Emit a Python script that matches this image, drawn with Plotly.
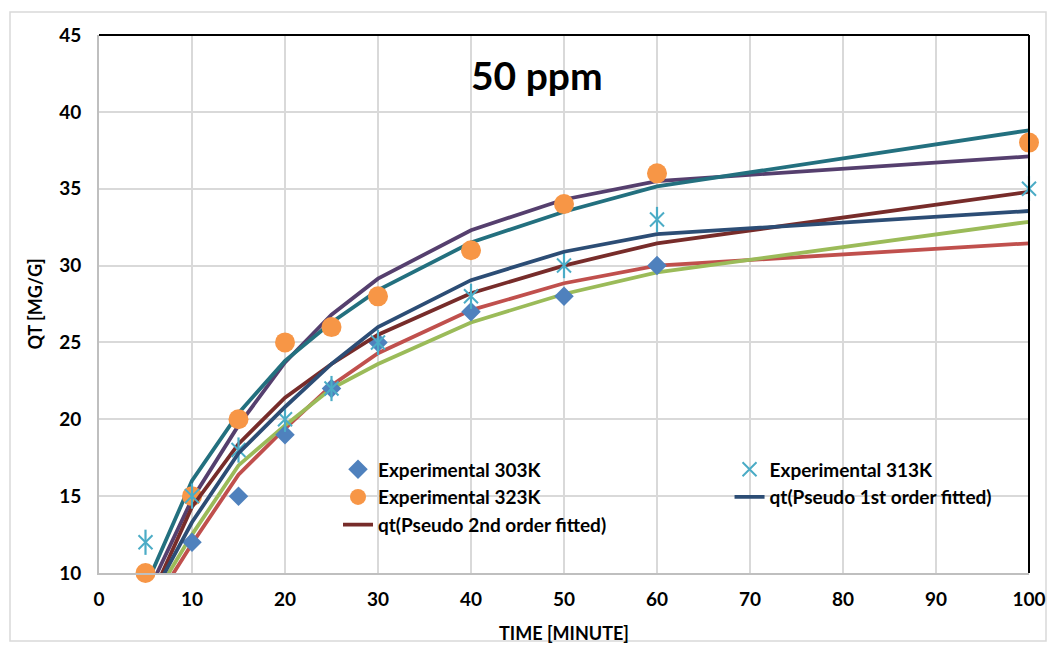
import plotly.graph_objects as go

# ---------------- data ----------------
t_fit = [5, 10, 15, 20, 25, 30, 40, 50, 60, 100]
fit_teal   = [9.1, 16.0, 20.4, 23.8, 26.3, 28.4, 31.5, 33.5, 35.15, 38.8]
fit_purple = [8.4, 14.8, 19.6, 23.7, 26.8, 29.15, 32.3, 34.3, 35.5, 37.1]
fit_navy   = [7.7, 13.3, 17.8, 20.8, 23.6, 26.0, 29.05, 30.9, 32.05, 33.55]   # pseudo 1st order
fit_dkred  = [7.6, 14.3, 18.4, 21.4, 23.6, 25.5, 28.2, 30.0, 31.45, 34.8]    # pseudo 2nd order
fit_red    = [7.1, 11.9, 16.4, 19.4, 22.2, 24.3, 27.1, 28.85, 30.0, 31.45]
fit_green  = [7.5, 12.5, 17.0, 19.6, 22.0, 23.6, 26.3, 28.15, 29.55, 32.85]

t_303 = [10, 15, 20, 25, 30, 40, 50, 60]
q_303 = [12, 15, 19, 22, 25, 27, 28, 30]
t_313 = [5, 10, 15, 20, 25, 30, 40, 50, 60, 100]
q_313 = [12, 15, 18, 20, 22, 25, 28, 30, 33, 35]
t_323 = [5, 10, 15, 20, 25, 30, 40, 50, 60, 100]
q_323 = [10, 15, 20, 25, 26, 28, 31, 34, 36, 38]

x_ticks = [0, 10, 20, 30, 40, 50, 60, 70, 80, 90, 100]
y_ticks = [10, 15, 20, 25, 30, 35, 40, 45]

FONT = "Lato"
LW = 3.8

fig = go.Figure()

def fit_line(y, color, name=None, legend=None):
    fig.add_trace(go.Scatter(
        x=t_fit, y=y, mode="lines", line=dict(color=color, width=LW),
        name=name or "", showlegend=name is not None,
        legend=legend or "legend", hoverinfo="skip"))

# unnamed fitted lines (drawn first)
fit_line(fit_red, "#C0504D")
fit_line(fit_green, "#9BBB59")
fit_line(fit_purple, "#553F6E")
fit_line(fit_teal, "#23707F")

# legend column 1
fig.add_trace(go.Scatter(
    x=t_303, y=q_303, mode="markers", name="Experimental 303K", legend="legend",
    marker=dict(symbol="diamond", size=15, color="#4F81BD"), cliponaxis=False))
fig.add_trace(go.Scatter(
    x=t_323, y=q_323, mode="markers", name="Experimental 323K", legend="legend",
    marker=dict(symbol="circle", size=20, color="#F79646"), cliponaxis=False))
fit_line(fit_dkred, "#772C2A", "qt(Pseudo 2nd order fitted)", "legend")

# legend column 2
fig.add_trace(go.Scatter(
    x=t_313, y=q_313, mode="markers", name="Experimental 313K", legend="legend2",
    legendgroup="313",
    marker=dict(symbol="x-thin-open", size=14, color="#4BACC6",
                line=dict(color="#4BACC6", width=2)),
    cliponaxis=False))
fig.add_trace(go.Scatter(
    x=t_313, y=q_313, mode="markers", showlegend=False, legendgroup="313",
    legend="legend2",
    marker=dict(symbol="line-ns-open", size=18, color="#4BACC6",
                line=dict(color="#4BACC6", width=2.2)),
    cliponaxis=False))
fit_line(fit_navy, "#2C4D75", "qt(Pseudo 1st order fitted)", "legend2")

legend_common = dict(font=dict(family=FONT, size=19, color="#000000", weight="bold"),
                     bgcolor="rgba(0,0,0,0)", borderwidth=0,
                     itemwidth=30, tracegroupgap=0,
                     xanchor="left", yanchor="top")

fig.update_layout(
    width=1054, height=645,
    margin=dict(l=99, r=25, t=35, b=72, autoexpand=False),
    paper_bgcolor="white", plot_bgcolor="white",
    font=dict(family=FONT, color="#000000"),
    legend=dict(x=0.257, y=0.228, **legend_common),
    legend2=dict(x=0.678, y=0.228, **legend_common),
    xaxis=dict(range=[0, 100], tickvals=x_ticks, ticktext=[str(v) for v in x_ticks],
               showgrid=True, gridcolor="#D9D9D9", gridwidth=2,
               showline=True, linecolor="#BFBFBF", linewidth=2,
               ticks="", zeroline=False, ticklabelstandoff=8, automargin=False,
               tickfont=dict(family=FONT, size=19, color="#000000", weight="bold"),
               title=dict(text="TIME [MINUTE]", standoff=19,
                          font=dict(family=FONT, size=18, color="#000000", weight="bold"))),
    yaxis=dict(range=[10, 45], tickvals=y_ticks, ticktext=[str(v) for v in y_ticks],
               showgrid=True, gridcolor="#D9D9D9", gridwidth=2,
               showline=True, linecolor="#BFBFBF", linewidth=2,
               ticks="", zeroline=False, ticklabelstandoff=12, automargin=False,
               tickfont=dict(family=FONT, size=19, color="#000000", weight="bold"),
               title=dict(text="QT [MG/G]", standoff=12,
                          font=dict(family=FONT, size=18, color="#000000", weight="bold"))),
    annotations=[dict(text="<b>50 ppm</b>", xref="paper", yref="paper",
                      x=0.471, y=0.925, xanchor="center", yanchor="middle",
                      showarrow=False, font=dict(family=FONT, size=39, color="#000000"))],
    shapes=[
        dict(type="line", xref="paper", yref="paper", x0=0, x1=1, y0=1, y1=1,
             line=dict(color="#000000", width=2)),
        dict(type="line", xref="paper", yref="paper", x0=1, x1=1, y0=0, y1=1,
             line=dict(color="#000000", width=2)),
        dict(type="rect", xref="paper", yref="paper",
             x0=(10 - 99) / 930, x1=(1046 - 99) / 930,
             y0=1 - (641 - 35) / 538, y1=1 - (12 - 35) / 538,
             line=dict(color="#D9D9D9", width=1.5), layer="below"),
    ],
)

fig.write_html("out.html")
